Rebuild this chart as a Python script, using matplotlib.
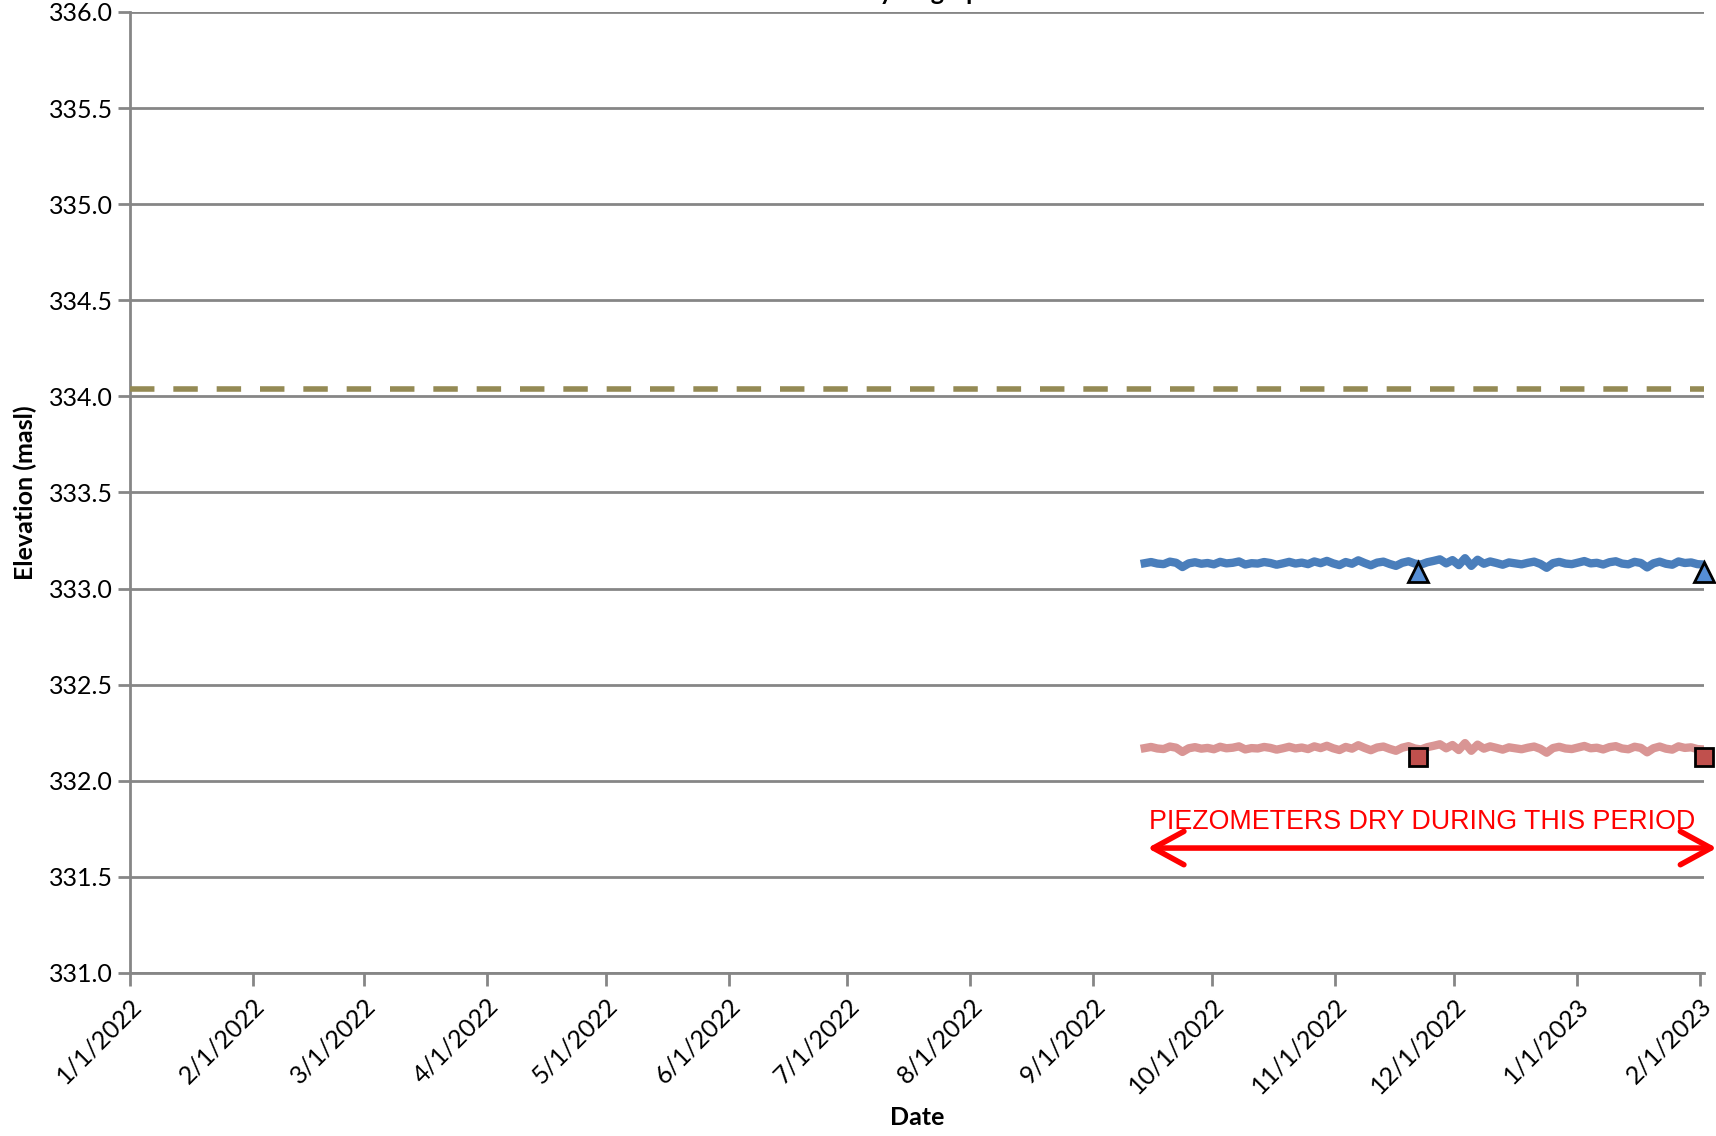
import matplotlib
matplotlib.use("Agg")
import matplotlib.pyplot as plt
import matplotlib.dates as mdates
from matplotlib.patches import FancyArrowPatch
import numpy as np
import pandas as pd

# logger record for the two piezometers (masl)
record_start = "2022-09-14"
record_end = "2023-02-02"
pz_shallow = [333.132, 333.138, 333.130, 333.127, 333.140, 333.134, 333.112, 333.131, 333.137, 333.129,
              333.133, 333.126, 333.139, 333.131, 333.134, 333.141, 333.125, 333.132, 333.130, 333.138,
              333.133, 333.124, 333.131, 333.139, 333.130, 333.135, 333.127, 333.141, 333.132, 333.144,
              333.131, 333.122, 333.138, 333.129, 333.147, 333.133, 333.121, 333.135, 333.140, 333.128,
              333.118, 333.134, 333.142, 333.130, 333.125, 333.137, 333.144, 333.152, 333.131, 333.148,
              333.122, 333.158, 333.118, 333.150, 333.129, 333.141, 333.133, 333.124, 333.136, 333.131,
              333.126, 333.134, 333.140, 333.128, 333.108, 333.132, 333.139, 333.130, 333.127, 333.135,
              333.143, 333.131, 333.134, 333.125, 333.137, 333.142, 333.130, 333.126, 333.139, 333.133,
              333.110, 333.131, 333.140, 333.129, 333.124, 333.141, 333.133, 333.136, 333.127, 333.125]
pz_deep = [332.170, 332.176, 332.168, 332.165, 332.178, 332.172, 332.150, 332.169, 332.175, 332.167,
           332.171, 332.164, 332.177, 332.169, 332.172, 332.179, 332.163, 332.170, 332.168, 332.176,
           332.171, 332.162, 332.169, 332.177, 332.168, 332.173, 332.165, 332.179, 332.170, 332.182,
           332.169, 332.160, 332.176, 332.167, 332.185, 332.171, 332.159, 332.173, 332.178, 332.166,
           332.156, 332.172, 332.180, 332.168, 332.163, 332.175, 332.182, 332.190, 332.169, 332.186,
           332.160, 332.196, 332.156, 332.188, 332.167, 332.179, 332.171, 332.162, 332.174, 332.169,
           332.164, 332.172, 332.178, 332.166, 332.146, 332.170, 332.177, 332.168, 332.165, 332.173,
           332.181, 332.169, 332.172, 332.163, 332.175, 332.180, 332.168, 332.164, 332.177, 332.171,
           332.148, 332.169, 332.178, 332.167, 332.162, 332.179, 332.171, 332.174, 332.165, 332.163]

# manual readings
manual_dates = ["2022-11-22", "2023-02-02"]
manual_shallow = [333.086, 333.086]
manual_deep = [332.124, 332.124]

reference_level = 334.04
dry_start = "2022-09-14"
dry_end = "2023-02-06"
dry_level = 331.65

month_ticks = pd.date_range("2022-01-01", "2023-02-01", freq="MS")
tick_labels = [f"{d.month}/{d.day}/{d.year}" for d in month_ticks]

logger_dates = pd.date_range(record_start, record_end, periods=len(pz_shallow))

plt.rcParams['font.family'] = ['Lato', 'DejaVu Sans']
grey = "#868686"

fig = plt.figure(figsize=(17.16, 11.36), dpi=100)
ax = fig.add_axes([0.0758, 0.1435, 0.917, 0.846])

ax.plot(logger_dates, pz_shallow, color="#4A7EBB", lw=6, zorder=3)
ax.plot(logger_dates, pz_deep, color="#D99594", lw=6, zorder=3)
ax.plot(pd.to_datetime(manual_dates), manual_shallow, ls="none", marker="^", ms=14,
        mfc="#558ED5", mec="black", mew=2, zorder=5, clip_on=False)
ax.plot(pd.to_datetime(manual_dates), manual_deep, ls="none", marker="s", ms=13,
        mfc="#C0504D", mec="black", mew=2, zorder=5, clip_on=False)
ax.axhline(reference_level, color="#948A54", lw=4, dashes=(4.4, 3.4), zorder=4)

arrow = FancyArrowPatch((mdates.date2num(pd.Timestamp(dry_start)), dry_level),
                        (mdates.date2num(pd.Timestamp(dry_end)), dry_level),
                        arrowstyle="<->,head_length=1.1,head_width=0.6", mutation_scale=20,
                        color="red", lw=4, clip_on=False, zorder=6)
ax.add_patch(arrow)
ax.text(pd.Timestamp("2022-11-23"), 331.72, "PIEZOMETERS DRY DURING THIS PERIOD", color="red",
        fontsize=19.3, family="Liberation Sans", ha="center", va="bottom")

ax.set_ylim(331.0, 336.0)
ax.set_yticks(np.arange(331.0, 336.01, 0.5))
ax.set_yticklabels([f"{v:.1f}" for v in np.arange(331.0, 336.01, 0.5)])
ax.set_xlim(pd.Timestamp("2022-01-01"), pd.Timestamp("2023-02-02"))
ax.set_xticks(month_ticks)
ax.set_xticklabels(tick_labels, rotation=45, ha="right", rotation_mode="anchor")

ax.grid(axis="y", color=grey, lw=2)
ax.set_axisbelow(True)
for side in ["top", "right"]:
    ax.spines[side].set_visible(False)
for side in ["left", "bottom"]:
    ax.spines[side].set_color(grey)
    ax.spines[side].set_linewidth(2)
ax.tick_params(axis="both", colors=grey, width=2, length=9, labelcolor="black", labelsize=18)
ax.tick_params(axis="x", pad=6)

ax.set_ylabel("Elevation (masl)", fontsize=18, fontweight="bold", labelpad=8)
ax.set_xlabel("Date", fontsize=18, fontweight="bold", labelpad=6)
fig.text(0.505, 1.0, "Piezometer Hydrographs", fontsize=18, fontweight="bold",
         ha="center", va="baseline")

fig.savefig("out.png", dpi=100)
